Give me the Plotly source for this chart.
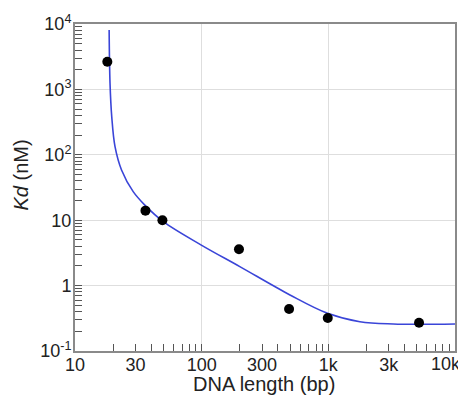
import plotly.graph_objects as go

# Measured data points
length_bp = [18, 36, 49, 197, 490, 990, 5200]
kd_nM = [2650, 14, 10, 3.6, 0.44, 0.32, 0.27]

# Fitted curve
fit_length = [18.6, 18.9, 19.5, 20.7, 23.3, 28.8, 35.6, 49.8, 98.6, 200, 498, 986, 1775, 3250, 10000]
fit_kd = [8100, 1240, 383, 133, 58.6, 27.3, 17, 9.5, 4.2, 1.95, 0.72, 0.377, 0.28, 0.259, 0.259]

x_label_vals = [10, 30, 100, 300, 1000, 3000, 10000]
x_label_text = ["10", "30", "100", "300", "1k", "3k", "10k"]
y_label_vals = [0.1, 1, 10, 100, 1000, 10000]
y_label_text = ["10<sup>-1</sup>", "1", "10", "10<sup>2</sup>", "10<sup>3</sup>", "10<sup>4</sup>"]

x_all = sorted({m * 10 ** e for e in range(1, 4) for m in range(1, 10)} | {10000})
# the last label (at the right edge) is drawn as a right-aligned annotation so it stays inside the page
x_text = [x_label_text[x_label_vals.index(v)] if (v in x_label_vals and v != x_label_vals[-1]) else "" for v in x_all]
y_minor = [m * 10 ** e for e in range(-1, 4) for m in range(2, 10)]

font = "Liberation Sans, Arial, Helvetica, sans-serif"
axcol = "#8a8a8a"
gridcol = "#dedede"

fig = go.Figure()
fig.add_trace(go.Scatter(x=fit_length, y=fit_kd, mode="lines", line=dict(color="#3a45d8", width=1.6, shape="spline"),
                         hoverinfo="skip", showlegend=False))
fig.add_trace(go.Scatter(x=length_bp, y=kd_nM, mode="markers", marker=dict(color="black", size=10),
                         showlegend=False))

# page body has an 8px margin, so the figure is sized to fit the 466x396 window
fig.update_layout(
    width=458, height=388,
    margin=dict(l=67, r=11, t=16, b=45),
    paper_bgcolor="white", plot_bgcolor="white",
    font=dict(family=font, color="#222", size=18),
    xaxis=dict(
        type="log", range=[1, 4], automargin=False,
        tickmode="array", tickvals=x_all, ticktext=x_text,
        ticks="inside", ticklen=7, tickwidth=1, tickcolor="#555",
        showgrid=False, zeroline=False,
        showline=True, linecolor=axcol, linewidth=2, mirror=True,
        tickfont=dict(size=18), ticklabeloverflow="allow", ticklabelstandoff=-4,
        minor=dict(tickmode="array", tickvals=[100, 1000], ticks="", showgrid=True, gridcolor=gridcol, gridwidth=1),
    ),
    yaxis=dict(
        type="log", range=[-1, 4], automargin=False,
        tickmode="array", tickvals=y_label_vals, ticktext=y_label_text,
        ticks="inside", ticklen=7, tickwidth=1, tickcolor="#555",
        showgrid=True, gridcolor=gridcol, gridwidth=1, zeroline=False,
        showline=True, linecolor=axcol, linewidth=2, mirror=True,
        tickfont=dict(size=18), ticklabeloverflow="allow", ticklabelstandoff=-2,
        minor=dict(tickmode="array", tickvals=y_minor, ticks="inside", ticklen=7, tickwidth=1, tickcolor="#555", showgrid=False),
    ),
    annotations=[
        dict(text=x_label_text[-1], xref="x", yref="paper", x=1, y=0, xshift=8, yshift=-13,
             xanchor="right", yanchor="middle", showarrow=False, font=dict(size=18, color="#222")),
        dict(text="DNA length (bp)", xref="paper", yref="paper", x=0.5, y=0, xshift=-1.5, yshift=-33,
             xanchor="center", yanchor="middle", showarrow=False, font=dict(size=20)),
        dict(text="<i>Kd</i> (nM)", xref="paper", yref="paper", x=0, y=0.5, xshift=-55, yshift=12,
             xanchor="center", yanchor="middle", textangle=-90, showarrow=False, font=dict(size=20)),
    ],
)
# place the edge label at the right end of the x axis (log axis annotations use log10 units)
import math
fig.layout.annotations[0].x = math.log10(x_label_vals[-1])
fig.layout.annotations[0].xref = "x"

fig.write_html("out.html")
